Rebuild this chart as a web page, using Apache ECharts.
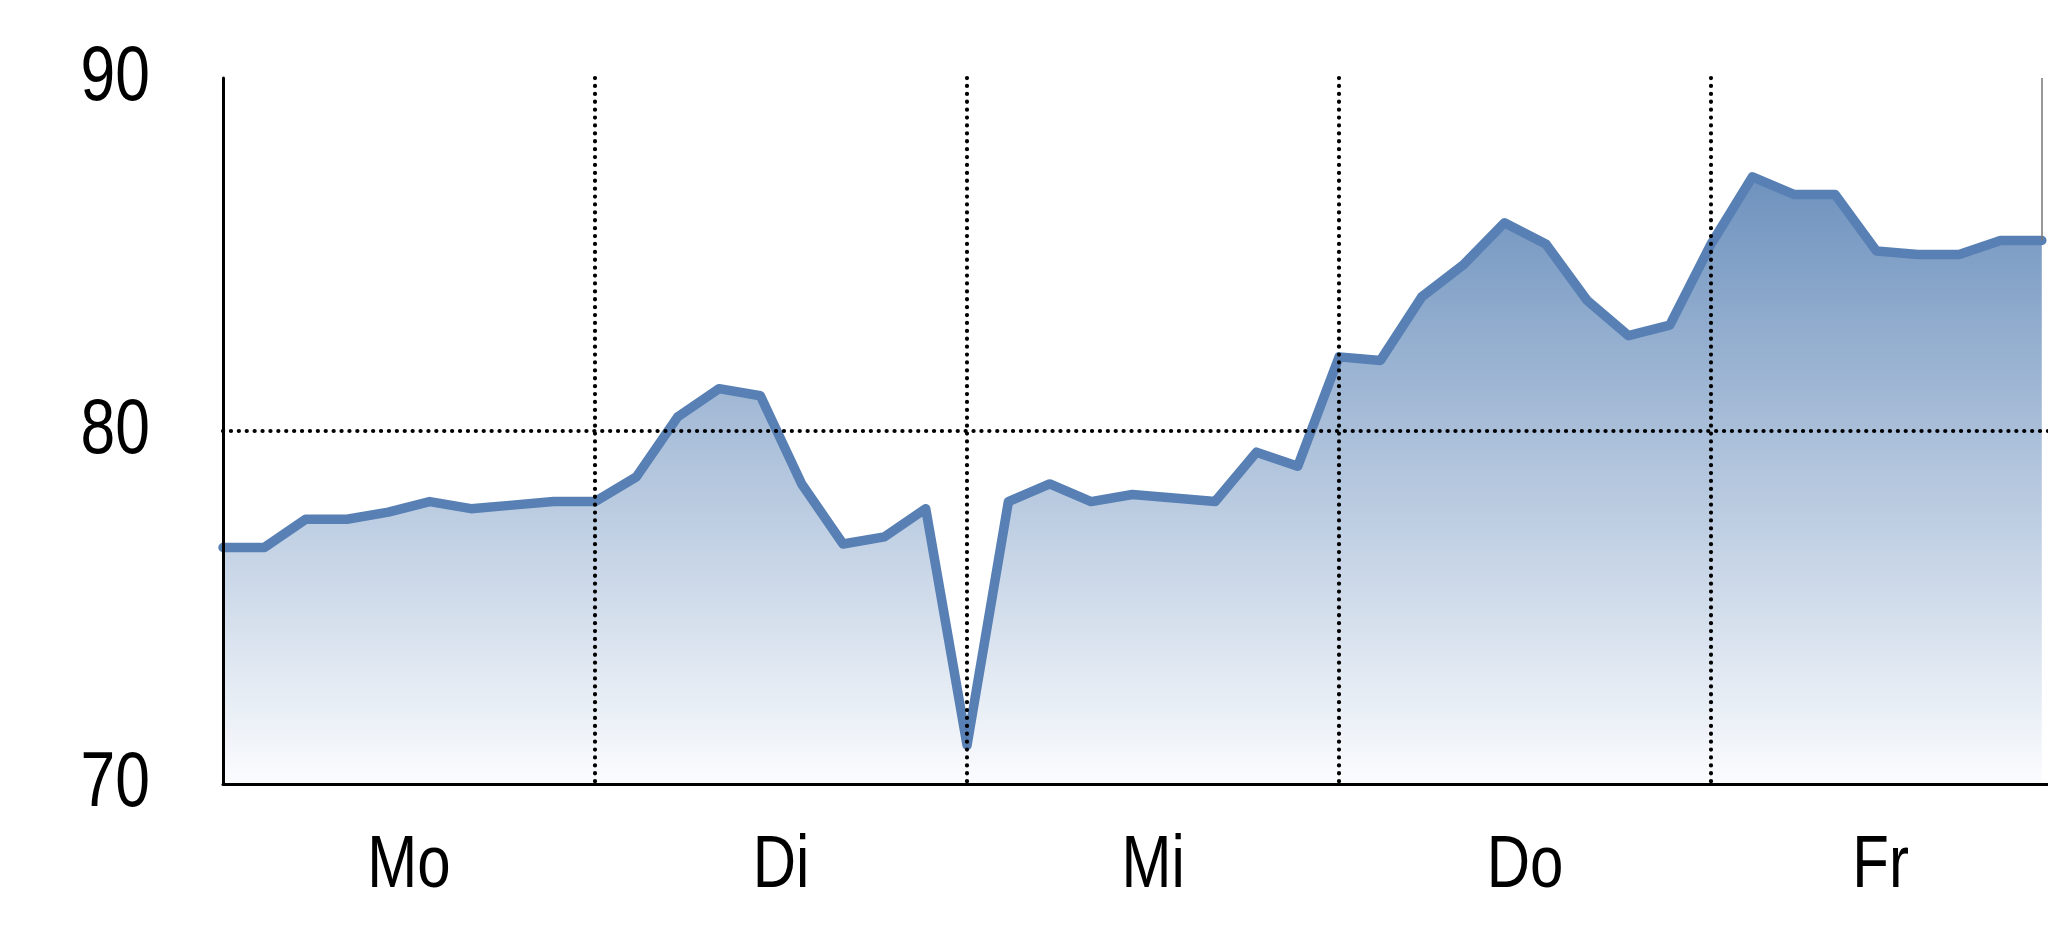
<!DOCTYPE html>
<html>
<head>
<meta charset="utf-8">
<script src="https://cdn.jsdelivr.net/npm/echarts@6/dist/echarts.min.js"></script>
<style>
html,body{margin:0;padding:0;background:#fff;}
#c{width:2048px;height:937px;}
</style>
</head>
<body>
<div id="c"></div>
<script>
// ---- data ----
const dayLabels = ['Mo', 'Di', 'Mi', 'Do', 'Fr'];
const dayLabelPositions = [4.5, 13.5, 22.5, 31.5, 40.1];
const values = [
  76.7, 76.7, 77.5, 77.5, 77.7, 78.0, 77.8, 77.9, 78.0, 78.0,
  78.7, 80.4, 81.2, 81.0, 78.5, 76.8, 77.0, 77.8, 71.1,
  78.0, 78.5, 78.0, 78.2, 78.1, 78.0, 79.4, 79.0, 82.1,
  82.0, 83.8, 84.7, 85.9, 85.3, 83.7, 82.7, 83.0, 85.3,
  87.2, 86.7, 86.7, 85.1, 85.0, 85.0, 85.4, 85.4
];
const yTicks = [70, 80, 90];
const pointsPerDay = 9;
const xMax = 44.15;

const seriesData = values.map((v, i) => [i, v]);
const lastIndex = values.length - 1;

const FONT = '"Liberation Sans", Arial, sans-serif';
const DOT = {width: 4.2, type: [0.1, 7.8], cap: 'round'};

const chart = echarts.init(document.getElementById('c'), null, {renderer: 'canvas'});
chart.setOption({
  animation: false,
  backgroundColor: '#ffffff',
  grid: {left: 223, right: 0, top: 78, bottom: 153, containLabel: false},
  xAxis: {
    type: 'value',
    min: 0,
    max: xMax,
    interval: pointsPerDay,
    z: 5,
    axisLine: {show: true, lineStyle: {color: '#000', width: 3}},
    axisTick: {show: false},
    axisLabel: {
      customValues: dayLabelPositions,
      formatter: function (v) {
        const k = dayLabelPositions.indexOf(v);
        return k >= 0 ? dayLabels[k] : '';
      },
      color: '#000',
      fontFamily: FONT,
      fontSize: 75,
      margin: 45
    },
    splitLine: {
      show: true,
      lineStyle: Object.assign({
        color: ['rgba(0,0,0,0)', '#000', '#000', '#000', '#000', 'rgba(0,0,0,0)']
      }, DOT)
    }
  },
  yAxis: {
    type: 'value',
    min: yTicks[0],
    max: yTicks[yTicks.length - 1],
    interval: 10,
    z: 5,
    axisLine: {show: true, lineStyle: {color: '#000', width: 3}},
    axisTick: {show: false},
    axisLabel: {
      color: '#000',
      fontFamily: FONT,
      fontSize: 78,
      margin: 73
    },
    splitLine: {
      show: true,
      lineStyle: Object.assign({
        color: ['rgba(0,0,0,0)', '#000', 'rgba(0,0,0,0)']
      }, DOT)
    }
  },
  series: [{
    type: 'line',
    data: seriesData,
    showSymbol: false,
    symbol: 'none',
    z: 2,
    lineStyle: {color: '#5880b4', width: 9.5, cap: 'round', join: 'round'},
    areaStyle: {
      opacity: 1,
      color: new echarts.graphic.LinearGradient(0, 0, 0, 1, [
        {offset: 0, color: 'rgb(110,146,190)'},
        {offset: 1, color: 'rgb(251,252,254)'}
      ])
    },
    markLine: {
      silent: true,
      symbol: ['none', 'none'],
      label: {show: false},
      lineStyle: {color: '#777', width: 1.5, type: 'solid'},
      data: [[
        {coord: [lastIndex, yTicks[yTicks.length - 1]]},
        {coord: [lastIndex, values[lastIndex]]}
      ]]
    }
  }]
});

// Narrow the axis-label glyphs horizontally (condensed look of the original)
(function condenseLabels() {
  const zr = chart.getZr();
  const visit = function (el) {
    if (el && el.type === 'text') {
      el.scaleX = 0.8;
      el.markRedraw && el.markRedraw();
    }
  };
  zr.storage.getRoots().forEach(function (root) {
    visit(root);
    if (root.traverse) root.traverse(visit);
  });
  zr.refresh();
})();
</script>
</body>
</html>
